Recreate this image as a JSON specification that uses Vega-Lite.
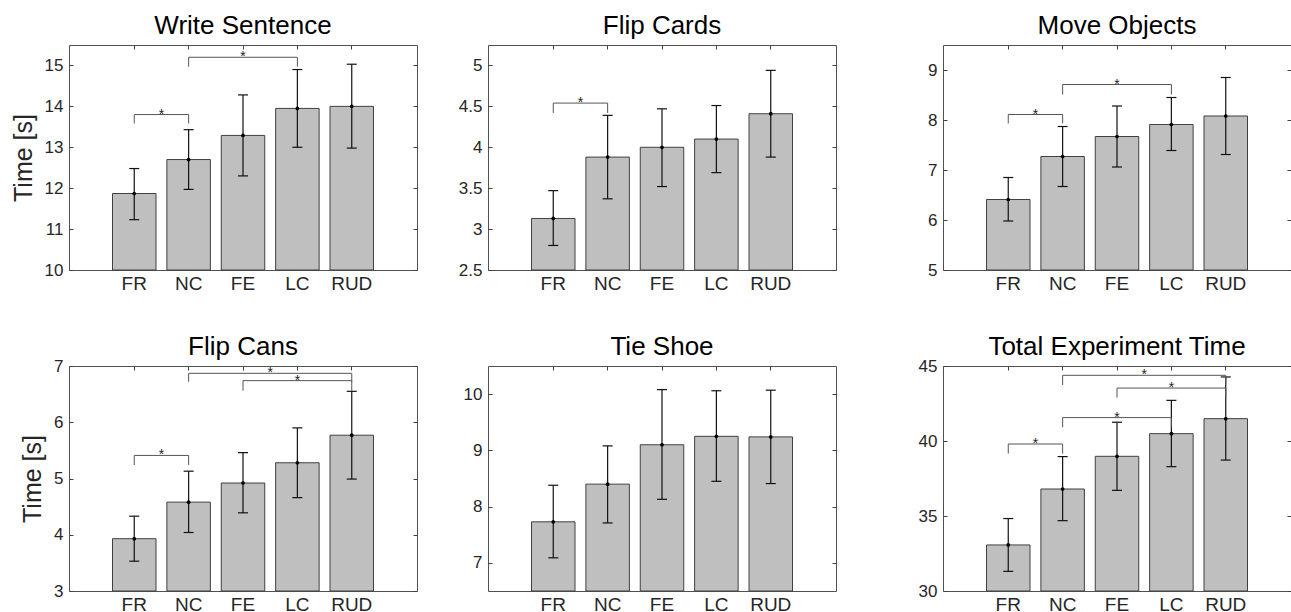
{
  "$schema": "https://vega.github.io/schema/vega-lite/v6.json",
  "padding": {"left": 10, "top": 12, "right": 0, "bottom": 0},
  "background": "white",
  "config": {
    "font": "Liberation Sans",
    "view": {"stroke": "#505050", "strokeWidth": 1},
    "axis": {"grid": false, "domain": false, "ticks": true, "tickSize": -4, "tickColor": "#404040", "labelColor": "#262626", "labelFont": "Liberation Sans", "titleFont": "Liberation Sans", "titleFontWeight": "normal", "titleColor": "#262626", "titleFontSize": 25, "titlePadding": 8},
    "axisY": {"labelFontSize": 17, "labelPadding": 10},
    "axisX": {"labelFontSize": 19, "labelPadding": 8, "labelAngle": 0},
    "title": {"fontSize": 26, "fontWeight": "normal", "font": "Liberation Sans", "color": "#000000", "offset": 6, "frame": "group"}
  },
  "datasets": {
    "ws": [
      {"cond": "FR", "mean": 11.87, "lo": 11.23, "hi": 12.48},
      {"cond": "NC", "mean": 12.70, "lo": 11.97, "hi": 13.43},
      {"cond": "FE", "mean": 13.29, "lo": 12.30, "hi": 14.28},
      {"cond": "LC", "mean": 13.95, "lo": 13.00, "hi": 14.90},
      {"cond": "RUD", "mean": 14.00, "lo": 12.98, "hi": 15.03}
    ],
    "ws_b": [
      {"from": "FR", "to": "NC", "top": 13.80, "leg": 13.58, "star": "FR", "half": true},
      {"from": "NC", "to": "LC", "top": 15.20, "leg": 14.97, "star": "FE", "half": false}
    ],
    "fc": [
      {"cond": "FR", "mean": 3.13, "lo": 2.80, "hi": 3.47},
      {"cond": "NC", "mean": 3.88, "lo": 3.37, "hi": 4.39},
      {"cond": "FE", "mean": 4.00, "lo": 3.52, "hi": 4.47},
      {"cond": "LC", "mean": 4.10, "lo": 3.69, "hi": 4.51},
      {"cond": "RUD", "mean": 4.41, "lo": 3.88, "hi": 4.94}
    ],
    "fc_b": [
      {"from": "FR", "to": "NC", "top": 4.54, "leg": 4.42, "star": "FR", "half": true}
    ],
    "mo": [
      {"cond": "FR", "mean": 6.41, "lo": 5.98, "hi": 6.85},
      {"cond": "NC", "mean": 7.27, "lo": 6.67, "hi": 7.87},
      {"cond": "FE", "mean": 7.67, "lo": 7.06, "hi": 8.28},
      {"cond": "LC", "mean": 7.91, "lo": 7.39, "hi": 8.45},
      {"cond": "RUD", "mean": 8.08, "lo": 7.31, "hi": 8.85}
    ],
    "mo_b": [
      {"from": "FR", "to": "NC", "top": 8.11, "leg": 7.93, "star": "FR", "half": true},
      {"from": "NC", "to": "LC", "top": 8.71, "leg": 8.51, "star": "FE", "half": false}
    ],
    "fcan": [
      {"cond": "FR", "mean": 3.93, "lo": 3.53, "hi": 4.33},
      {"cond": "NC", "mean": 4.58, "lo": 4.04, "hi": 5.13},
      {"cond": "FE", "mean": 4.92, "lo": 4.39, "hi": 5.46},
      {"cond": "LC", "mean": 5.28, "lo": 4.66, "hi": 5.90},
      {"cond": "RUD", "mean": 5.77, "lo": 4.99, "hi": 6.55}
    ],
    "fcan_b": [
      {"from": "FR", "to": "NC", "top": 5.41, "leg": 5.24, "star": "FR", "half": true},
      {"from": "NC", "to": "RUD", "top": 6.87, "leg": 6.72, "star": "FE", "half": true},
      {"from": "FE", "to": "RUD", "top": 6.74, "leg": 6.56, "star": "LC", "half": false}
    ],
    "ts": [
      {"cond": "FR", "mean": 7.73, "lo": 7.09, "hi": 8.38},
      {"cond": "NC", "mean": 8.40, "lo": 7.71, "hi": 9.08},
      {"cond": "FE", "mean": 9.10, "lo": 8.13, "hi": 10.08},
      {"cond": "LC", "mean": 9.25, "lo": 8.45, "hi": 10.06},
      {"cond": "RUD", "mean": 9.24, "lo": 8.41, "hi": 10.07}
    ],
    "tot": [
      {"cond": "FR", "mean": 33.07, "lo": 31.31, "hi": 34.83},
      {"cond": "NC", "mean": 36.80, "lo": 34.69, "hi": 38.96},
      {"cond": "FE", "mean": 38.98, "lo": 36.71, "hi": 41.25},
      {"cond": "LC", "mean": 40.49, "lo": 38.29, "hi": 42.71},
      {"cond": "RUD", "mean": 41.49, "lo": 38.73, "hi": 44.27}
    ],
    "tot_b": [
      {"from": "FR", "to": "NC", "top": 39.80, "leg": 39.16, "star": "FR", "half": true},
      {"from": "NC", "to": "LC", "top": 41.56, "leg": 40.91, "star": "FE", "half": false},
      {"from": "FE", "to": "RUD", "top": 43.53, "leg": 42.89, "star": "LC", "half": false},
      {"from": "NC", "to": "RUD", "top": 44.38, "leg": 43.73, "star": "FE", "half": true}
    ]
  },
  "hconcat": [
    {
      "hconcat": [
        {
          "vconcat": [
            {
              "width": 348, "height": 225,
              "title": "Write Sentence",
              "data": {"name": "ws"},
              "resolve": {"axis": {"x": "independent", "y": "independent"}},
              "layer": [
                {"mark": {"type": "bar", "fill": "#bfbfbf", "stroke": "#404040", "strokeWidth": 1},
                 "encoding": {
                   "x": {"field": "cond", "type": "nominal", "scale": {"type": "band", "domain": ["FR","NC","FE","LC","RUD"], "paddingInner": 0.2, "paddingOuter": 0.8}, "axis": {"title": null, "orient": "bottom", "encode": {"labels": {"update": {"dy": {"signal": "datum.value === 'FE' || datum.value === 'LC' ? 5 : datum.value === 'NC' ? 2 : 0"}}}}}},
                   "y": {"field": "mean", "type": "quantitative", "scale": {"domain": [10, 15.5], "nice": false, "zero": false}, "axis": {"values": [10,11,12,13,14,15], "format": ".3~g", "title": "Time [s]"}},
                   "y2": {"datum": 10}
                 }},
                {"mark": {"type": "rule", "color": "#111111", "strokeWidth": 1.2},
                 "encoding": {
                   "x": {"field": "cond", "type": "nominal", "scale": {"type": "band", "domain": ["FR","NC","FE","LC","RUD"], "paddingInner": 0.2, "paddingOuter": 0.8}, "axis": null},
                   "y": {"field": "lo", "type": "quantitative", "scale": {"domain": [10, 15.5], "nice": false, "zero": false}, "axis": null},
                   "y2": {"field": "hi"}
                 }},
                {"mark": {"type": "tick", "color": "#111111", "size": 10, "thickness": 1.2, "opacity": 1},
                 "encoding": {
                   "x": {"field": "cond", "type": "nominal", "scale": {"type": "band", "domain": ["FR","NC","FE","LC","RUD"], "paddingInner": 0.2, "paddingOuter": 0.8}, "axis": null},
                   "y": {"field": "lo", "type": "quantitative", "scale": {"domain": [10, 15.5], "nice": false, "zero": false}, "axis": null}
                 }},
                {"mark": {"type": "tick", "color": "#111111", "size": 10, "thickness": 1.2, "opacity": 1},
                 "encoding": {
                   "x": {"field": "cond", "type": "nominal", "scale": {"type": "band", "domain": ["FR","NC","FE","LC","RUD"], "paddingInner": 0.2, "paddingOuter": 0.8}, "axis": null},
                   "y": {"field": "hi", "type": "quantitative", "scale": {"domain": [10, 15.5], "nice": false, "zero": false}, "axis": null}
                 }},
                {"mark": {"type": "point", "filled": true, "color": "#000000", "size": 14, "opacity": 1},
                 "encoding": {
                   "x": {"field": "cond", "type": "nominal", "scale": {"type": "band", "domain": ["FR","NC","FE","LC","RUD"], "paddingInner": 0.2, "paddingOuter": 0.8}, "axis": {"orient": "top", "labels": false, "title": null}},
                   "y": {"field": "mean", "type": "quantitative", "scale": {"domain": [10, 15.5], "nice": false, "zero": false}, "axis": {"orient": "right", "labels": false, "title": null, "values": [10,11,12,13,14,15]}}
                 }},
                {"data": {"name": "ws_b"}, "mark": {"type": "rule", "color": "#555555", "strokeWidth": 1},
                 "encoding": {
                   "x": {"field": "from", "type": "nominal", "scale": {"type": "band", "domain": ["FR","NC","FE","LC","RUD"], "paddingInner": 0.2, "paddingOuter": 0.8}, "axis": null},
                   "x2": {"field": "to"},
                   "y": {"field": "top", "type": "quantitative", "scale": {"domain": [10, 15.5], "nice": false, "zero": false}, "axis": null}
                 }},
                {"data": {"name": "ws_b"}, "mark": {"type": "rule", "color": "#555555", "strokeWidth": 1},
                 "encoding": {
                   "x": {"field": "from", "type": "nominal", "scale": {"type": "band", "domain": ["FR","NC","FE","LC","RUD"], "paddingInner": 0.2, "paddingOuter": 0.8}, "axis": null},
                   "y": {"field": "top", "type": "quantitative", "scale": {"domain": [10, 15.5], "nice": false, "zero": false}, "axis": null},
                   "y2": {"field": "leg"}
                 }},
                {"data": {"name": "ws_b"}, "mark": {"type": "rule", "color": "#555555", "strokeWidth": 1},
                 "encoding": {
                   "x": {"field": "to", "type": "nominal", "scale": {"type": "band", "domain": ["FR","NC","FE","LC","RUD"], "paddingInner": 0.2, "paddingOuter": 0.8}, "axis": null},
                   "y": {"field": "top", "type": "quantitative", "scale": {"domain": [10, 15.5], "nice": false, "zero": false}, "axis": null},
                   "y2": {"field": "leg"}
                 }},
                {"data": {"name": "ws_b"}, "transform": [{"filter": "!datum.half"}],
                 "mark": {"type": "text", "text": "*", "fontSize": 14, "dy": 4, "baseline": "alphabetic", "color": "#222222"},
                 "encoding": {
                   "x": {"field": "star", "type": "nominal", "scale": {"type": "band", "domain": ["FR","NC","FE","LC","RUD"], "paddingInner": 0.2, "paddingOuter": 0.8}, "axis": null},
                   "y": {"field": "top", "type": "quantitative", "scale": {"domain": [10, 15.5], "nice": false, "zero": false}, "axis": null}
                 }},
                {"data": {"name": "ws_b"}, "transform": [{"filter": "datum.half"}],
                 "mark": {"type": "text", "text": "*", "fontSize": 14, "dy": 4, "baseline": "alphabetic", "color": "#222222"},
                 "encoding": {
                   "x": {"field": "star", "type": "nominal", "bandPosition": 1.125, "scale": {"type": "band", "domain": ["FR","NC","FE","LC","RUD"], "paddingInner": 0.2, "paddingOuter": 0.8}, "axis": null},
                   "y": {"field": "top", "type": "quantitative", "scale": {"domain": [10, 15.5], "nice": false, "zero": false}, "axis": null}
                 }}
              ]
            },
            {
              "width": 348, "height": 225,
              "title": {"text": "Flip Cans", "offset": -3},
              "data": {"name": "fcan"},
              "resolve": {"axis": {"x": "independent", "y": "independent"}},
              "layer": [
                {"mark": {"type": "bar", "fill": "#bfbfbf", "stroke": "#404040", "strokeWidth": 1},
                 "encoding": {
                   "x": {"field": "cond", "type": "nominal", "scale": {"type": "band", "domain": ["FR","NC","FE","LC","RUD"], "paddingInner": 0.2, "paddingOuter": 0.8}, "axis": {"title": null, "orient": "bottom", "encode": {"labels": {"update": {"dy": {"signal": "datum.value === 'FE' || datum.value === 'LC' ? 5 : datum.value === 'NC' ? 2 : 0"}}}}}},
                   "y": {"field": "mean", "type": "quantitative", "scale": {"domain": [3, 7], "nice": false, "zero": false}, "axis": {"values": [3,4,5,6,7], "format": ".3~g", "title": "Time [s]"}},
                   "y2": {"datum": 3}
                 }},
                {"mark": {"type": "rule", "color": "#111111", "strokeWidth": 1.2},
                 "encoding": {
                   "x": {"field": "cond", "type": "nominal", "scale": {"type": "band", "domain": ["FR","NC","FE","LC","RUD"], "paddingInner": 0.2, "paddingOuter": 0.8}, "axis": null},
                   "y": {"field": "lo", "type": "quantitative", "scale": {"domain": [3, 7], "nice": false, "zero": false}, "axis": null},
                   "y2": {"field": "hi"}
                 }},
                {"mark": {"type": "tick", "color": "#111111", "size": 10, "thickness": 1.2, "opacity": 1},
                 "encoding": {
                   "x": {"field": "cond", "type": "nominal", "scale": {"type": "band", "domain": ["FR","NC","FE","LC","RUD"], "paddingInner": 0.2, "paddingOuter": 0.8}, "axis": null},
                   "y": {"field": "lo", "type": "quantitative", "scale": {"domain": [3, 7], "nice": false, "zero": false}, "axis": null}
                 }},
                {"mark": {"type": "tick", "color": "#111111", "size": 10, "thickness": 1.2, "opacity": 1},
                 "encoding": {
                   "x": {"field": "cond", "type": "nominal", "scale": {"type": "band", "domain": ["FR","NC","FE","LC","RUD"], "paddingInner": 0.2, "paddingOuter": 0.8}, "axis": null},
                   "y": {"field": "hi", "type": "quantitative", "scale": {"domain": [3, 7], "nice": false, "zero": false}, "axis": null}
                 }},
                {"mark": {"type": "point", "filled": true, "color": "#000000", "size": 14, "opacity": 1},
                 "encoding": {
                   "x": {"field": "cond", "type": "nominal", "scale": {"type": "band", "domain": ["FR","NC","FE","LC","RUD"], "paddingInner": 0.2, "paddingOuter": 0.8}, "axis": {"orient": "top", "labels": false, "title": null}},
                   "y": {"field": "mean", "type": "quantitative", "scale": {"domain": [3, 7], "nice": false, "zero": false}, "axis": {"orient": "right", "labels": false, "title": null, "values": [3,4,5,6,7]}}
                 }},
                {"data": {"name": "fcan_b"}, "mark": {"type": "rule", "color": "#555555", "strokeWidth": 1},
                 "encoding": {
                   "x": {"field": "from", "type": "nominal", "scale": {"type": "band", "domain": ["FR","NC","FE","LC","RUD"], "paddingInner": 0.2, "paddingOuter": 0.8}, "axis": null},
                   "x2": {"field": "to"},
                   "y": {"field": "top", "type": "quantitative", "scale": {"domain": [3, 7], "nice": false, "zero": false}, "axis": null}
                 }},
                {"data": {"name": "fcan_b"}, "mark": {"type": "rule", "color": "#555555", "strokeWidth": 1},
                 "encoding": {
                   "x": {"field": "from", "type": "nominal", "scale": {"type": "band", "domain": ["FR","NC","FE","LC","RUD"], "paddingInner": 0.2, "paddingOuter": 0.8}, "axis": null},
                   "y": {"field": "top", "type": "quantitative", "scale": {"domain": [3, 7], "nice": false, "zero": false}, "axis": null},
                   "y2": {"field": "leg"}
                 }},
                {"data": {"name": "fcan_b"}, "mark": {"type": "rule", "color": "#555555", "strokeWidth": 1},
                 "encoding": {
                   "x": {"field": "to", "type": "nominal", "scale": {"type": "band", "domain": ["FR","NC","FE","LC","RUD"], "paddingInner": 0.2, "paddingOuter": 0.8}, "axis": null},
                   "y": {"field": "top", "type": "quantitative", "scale": {"domain": [3, 7], "nice": false, "zero": false}, "axis": null},
                   "y2": {"field": "leg"}
                 }},
                {"data": {"name": "fcan_b"}, "transform": [{"filter": "!datum.half"}],
                 "mark": {"type": "text", "text": "*", "fontSize": 14, "dy": 4, "baseline": "alphabetic", "color": "#222222"},
                 "encoding": {
                   "x": {"field": "star", "type": "nominal", "scale": {"type": "band", "domain": ["FR","NC","FE","LC","RUD"], "paddingInner": 0.2, "paddingOuter": 0.8}, "axis": null},
                   "y": {"field": "top", "type": "quantitative", "scale": {"domain": [3, 7], "nice": false, "zero": false}, "axis": null}
                 }},
                {"data": {"name": "fcan_b"}, "transform": [{"filter": "datum.half"}],
                 "mark": {"type": "text", "text": "*", "fontSize": 14, "dy": 4, "baseline": "alphabetic", "color": "#222222"},
                 "encoding": {
                   "x": {"field": "star", "type": "nominal", "bandPosition": 1.125, "scale": {"type": "band", "domain": ["FR","NC","FE","LC","RUD"], "paddingInner": 0.2, "paddingOuter": 0.8}, "axis": null},
                   "y": {"field": "top", "type": "quantitative", "scale": {"domain": [3, 7], "nice": false, "zero": false}, "axis": null}
                 }}
              ]
            }
          ],
          "spacing": 39
        },
        {
          "vconcat": [
            {
              "width": 348, "height": 225,
              "title": "Flip Cards",
              "data": {"name": "fc"},
              "resolve": {"axis": {"x": "independent", "y": "independent"}},
              "layer": [
                {"mark": {"type": "bar", "fill": "#bfbfbf", "stroke": "#404040", "strokeWidth": 1},
                 "encoding": {
                   "x": {"field": "cond", "type": "nominal", "scale": {"type": "band", "domain": ["FR","NC","FE","LC","RUD"], "paddingInner": 0.2, "paddingOuter": 0.8}, "axis": {"title": null, "orient": "bottom", "encode": {"labels": {"update": {"dy": {"signal": "datum.value === 'FE' || datum.value === 'LC' ? 5 : datum.value === 'NC' ? 2 : 0"}}}}}},
                   "y": {"field": "mean", "type": "quantitative", "scale": {"domain": [2.5, 5.25], "nice": false, "zero": false}, "axis": {"values": [2.5,3,3.5,4,4.5,5], "format": ".3~g", "title": null}},
                   "y2": {"datum": 2.5}
                 }},
                {"mark": {"type": "rule", "color": "#111111", "strokeWidth": 1.2},
                 "encoding": {
                   "x": {"field": "cond", "type": "nominal", "scale": {"type": "band", "domain": ["FR","NC","FE","LC","RUD"], "paddingInner": 0.2, "paddingOuter": 0.8}, "axis": null},
                   "y": {"field": "lo", "type": "quantitative", "scale": {"domain": [2.5, 5.25], "nice": false, "zero": false}, "axis": null},
                   "y2": {"field": "hi"}
                 }},
                {"mark": {"type": "tick", "color": "#111111", "size": 10, "thickness": 1.2, "opacity": 1},
                 "encoding": {
                   "x": {"field": "cond", "type": "nominal", "scale": {"type": "band", "domain": ["FR","NC","FE","LC","RUD"], "paddingInner": 0.2, "paddingOuter": 0.8}, "axis": null},
                   "y": {"field": "lo", "type": "quantitative", "scale": {"domain": [2.5, 5.25], "nice": false, "zero": false}, "axis": null}
                 }},
                {"mark": {"type": "tick", "color": "#111111", "size": 10, "thickness": 1.2, "opacity": 1},
                 "encoding": {
                   "x": {"field": "cond", "type": "nominal", "scale": {"type": "band", "domain": ["FR","NC","FE","LC","RUD"], "paddingInner": 0.2, "paddingOuter": 0.8}, "axis": null},
                   "y": {"field": "hi", "type": "quantitative", "scale": {"domain": [2.5, 5.25], "nice": false, "zero": false}, "axis": null}
                 }},
                {"mark": {"type": "point", "filled": true, "color": "#000000", "size": 14, "opacity": 1},
                 "encoding": {
                   "x": {"field": "cond", "type": "nominal", "scale": {"type": "band", "domain": ["FR","NC","FE","LC","RUD"], "paddingInner": 0.2, "paddingOuter": 0.8}, "axis": {"orient": "top", "labels": false, "title": null}},
                   "y": {"field": "mean", "type": "quantitative", "scale": {"domain": [2.5, 5.25], "nice": false, "zero": false}, "axis": {"orient": "right", "labels": false, "title": null, "values": [2.5,3,3.5,4,4.5,5]}}
                 }},
                {"data": {"name": "fc_b"}, "mark": {"type": "rule", "color": "#555555", "strokeWidth": 1},
                 "encoding": {
                   "x": {"field": "from", "type": "nominal", "scale": {"type": "band", "domain": ["FR","NC","FE","LC","RUD"], "paddingInner": 0.2, "paddingOuter": 0.8}, "axis": null},
                   "x2": {"field": "to"},
                   "y": {"field": "top", "type": "quantitative", "scale": {"domain": [2.5, 5.25], "nice": false, "zero": false}, "axis": null}
                 }},
                {"data": {"name": "fc_b"}, "mark": {"type": "rule", "color": "#555555", "strokeWidth": 1},
                 "encoding": {
                   "x": {"field": "from", "type": "nominal", "scale": {"type": "band", "domain": ["FR","NC","FE","LC","RUD"], "paddingInner": 0.2, "paddingOuter": 0.8}, "axis": null},
                   "y": {"field": "top", "type": "quantitative", "scale": {"domain": [2.5, 5.25], "nice": false, "zero": false}, "axis": null},
                   "y2": {"field": "leg"}
                 }},
                {"data": {"name": "fc_b"}, "mark": {"type": "rule", "color": "#555555", "strokeWidth": 1},
                 "encoding": {
                   "x": {"field": "to", "type": "nominal", "scale": {"type": "band", "domain": ["FR","NC","FE","LC","RUD"], "paddingInner": 0.2, "paddingOuter": 0.8}, "axis": null},
                   "y": {"field": "top", "type": "quantitative", "scale": {"domain": [2.5, 5.25], "nice": false, "zero": false}, "axis": null},
                   "y2": {"field": "leg"}
                 }},
                {"data": {"name": "fc_b"}, "transform": [{"filter": "datum.half"}],
                 "mark": {"type": "text", "text": "*", "fontSize": 14, "dy": 4, "baseline": "alphabetic", "color": "#222222"},
                 "encoding": {
                   "x": {"field": "star", "type": "nominal", "bandPosition": 1.125, "scale": {"type": "band", "domain": ["FR","NC","FE","LC","RUD"], "paddingInner": 0.2, "paddingOuter": 0.8}, "axis": null},
                   "y": {"field": "top", "type": "quantitative", "scale": {"domain": [2.5, 5.25], "nice": false, "zero": false}, "axis": null}
                 }}
              ]
            },
            {
              "width": 348, "height": 225,
              "title": "Tie Shoe",
              "data": {"name": "ts"},
              "resolve": {"axis": {"x": "independent", "y": "independent"}},
              "layer": [
                {"mark": {"type": "bar", "fill": "#bfbfbf", "stroke": "#404040", "strokeWidth": 1},
                 "encoding": {
                   "x": {"field": "cond", "type": "nominal", "scale": {"type": "band", "domain": ["FR","NC","FE","LC","RUD"], "paddingInner": 0.2, "paddingOuter": 0.8}, "axis": {"title": null, "orient": "bottom", "encode": {"labels": {"update": {"dy": {"signal": "datum.value === 'FE' || datum.value === 'LC' ? 5 : datum.value === 'NC' ? 2 : 0"}}}}}},
                   "y": {"field": "mean", "type": "quantitative", "scale": {"domain": [6.5, 10.5], "nice": false, "zero": false}, "axis": {"values": [7,8,9,10], "format": ".3~g", "title": null}},
                   "y2": {"datum": 6.5}
                 }},
                {"mark": {"type": "rule", "color": "#111111", "strokeWidth": 1.2},
                 "encoding": {
                   "x": {"field": "cond", "type": "nominal", "scale": {"type": "band", "domain": ["FR","NC","FE","LC","RUD"], "paddingInner": 0.2, "paddingOuter": 0.8}, "axis": null},
                   "y": {"field": "lo", "type": "quantitative", "scale": {"domain": [6.5, 10.5], "nice": false, "zero": false}, "axis": null},
                   "y2": {"field": "hi"}
                 }},
                {"mark": {"type": "tick", "color": "#111111", "size": 10, "thickness": 1.2, "opacity": 1},
                 "encoding": {
                   "x": {"field": "cond", "type": "nominal", "scale": {"type": "band", "domain": ["FR","NC","FE","LC","RUD"], "paddingInner": 0.2, "paddingOuter": 0.8}, "axis": null},
                   "y": {"field": "lo", "type": "quantitative", "scale": {"domain": [6.5, 10.5], "nice": false, "zero": false}, "axis": null}
                 }},
                {"mark": {"type": "tick", "color": "#111111", "size": 10, "thickness": 1.2, "opacity": 1},
                 "encoding": {
                   "x": {"field": "cond", "type": "nominal", "scale": {"type": "band", "domain": ["FR","NC","FE","LC","RUD"], "paddingInner": 0.2, "paddingOuter": 0.8}, "axis": null},
                   "y": {"field": "hi", "type": "quantitative", "scale": {"domain": [6.5, 10.5], "nice": false, "zero": false}, "axis": null}
                 }},
                {"mark": {"type": "point", "filled": true, "color": "#000000", "size": 14, "opacity": 1},
                 "encoding": {
                   "x": {"field": "cond", "type": "nominal", "scale": {"type": "band", "domain": ["FR","NC","FE","LC","RUD"], "paddingInner": 0.2, "paddingOuter": 0.8}, "axis": {"orient": "top", "labels": false, "title": null}},
                   "y": {"field": "mean", "type": "quantitative", "scale": {"domain": [6.5, 10.5], "nice": false, "zero": false}, "axis": {"orient": "right", "labels": false, "title": null, "values": [7,8,9,10]}}
                 }}
              ]
            }
          ],
          "spacing": 39
        }
      ],
      "spacing": 39
    },
    {
      "vconcat": [
        {
          "width": 348, "height": 225,
          "title": "Move Objects",
          "data": {"name": "mo"},
          "resolve": {"axis": {"x": "independent", "y": "independent"}},
          "layer": [
            {"mark": {"type": "bar", "fill": "#bfbfbf", "stroke": "#404040", "strokeWidth": 1},
             "encoding": {
               "x": {"field": "cond", "type": "nominal", "scale": {"type": "band", "domain": ["FR","NC","FE","LC","RUD"], "paddingInner": 0.2, "paddingOuter": 0.8}, "axis": {"title": null, "orient": "bottom", "encode": {"labels": {"update": {"dy": {"signal": "datum.value === 'FE' || datum.value === 'LC' ? 5 : datum.value === 'NC' ? 2 : 0"}}}}}},
               "y": {"field": "mean", "type": "quantitative", "scale": {"domain": [5, 9.5], "nice": false, "zero": false}, "axis": {"values": [5,6,7,8,9], "format": ".3~g", "title": null}},
               "y2": {"datum": 5}
             }},
            {"mark": {"type": "rule", "color": "#111111", "strokeWidth": 1.2},
             "encoding": {
               "x": {"field": "cond", "type": "nominal", "scale": {"type": "band", "domain": ["FR","NC","FE","LC","RUD"], "paddingInner": 0.2, "paddingOuter": 0.8}, "axis": null},
               "y": {"field": "lo", "type": "quantitative", "scale": {"domain": [5, 9.5], "nice": false, "zero": false}, "axis": null},
               "y2": {"field": "hi"}
             }},
            {"mark": {"type": "tick", "color": "#111111", "size": 10, "thickness": 1.2, "opacity": 1},
             "encoding": {
               "x": {"field": "cond", "type": "nominal", "scale": {"type": "band", "domain": ["FR","NC","FE","LC","RUD"], "paddingInner": 0.2, "paddingOuter": 0.8}, "axis": null},
               "y": {"field": "lo", "type": "quantitative", "scale": {"domain": [5, 9.5], "nice": false, "zero": false}, "axis": null}
             }},
            {"mark": {"type": "tick", "color": "#111111", "size": 10, "thickness": 1.2, "opacity": 1},
             "encoding": {
               "x": {"field": "cond", "type": "nominal", "scale": {"type": "band", "domain": ["FR","NC","FE","LC","RUD"], "paddingInner": 0.2, "paddingOuter": 0.8}, "axis": null},
               "y": {"field": "hi", "type": "quantitative", "scale": {"domain": [5, 9.5], "nice": false, "zero": false}, "axis": null}
             }},
            {"mark": {"type": "point", "filled": true, "color": "#000000", "size": 14, "opacity": 1},
             "encoding": {
               "x": {"field": "cond", "type": "nominal", "scale": {"type": "band", "domain": ["FR","NC","FE","LC","RUD"], "paddingInner": 0.2, "paddingOuter": 0.8}, "axis": {"orient": "top", "labels": false, "title": null}},
               "y": {"field": "mean", "type": "quantitative", "scale": {"domain": [5, 9.5], "nice": false, "zero": false}, "axis": {"orient": "right", "labels": false, "title": null, "values": [5,6,7,8,9]}}
             }},
            {"data": {"name": "mo_b"}, "mark": {"type": "rule", "color": "#555555", "strokeWidth": 1},
             "encoding": {
               "x": {"field": "from", "type": "nominal", "scale": {"type": "band", "domain": ["FR","NC","FE","LC","RUD"], "paddingInner": 0.2, "paddingOuter": 0.8}, "axis": null},
               "x2": {"field": "to"},
               "y": {"field": "top", "type": "quantitative", "scale": {"domain": [5, 9.5], "nice": false, "zero": false}, "axis": null}
             }},
            {"data": {"name": "mo_b"}, "mark": {"type": "rule", "color": "#555555", "strokeWidth": 1},
             "encoding": {
               "x": {"field": "from", "type": "nominal", "scale": {"type": "band", "domain": ["FR","NC","FE","LC","RUD"], "paddingInner": 0.2, "paddingOuter": 0.8}, "axis": null},
               "y": {"field": "top", "type": "quantitative", "scale": {"domain": [5, 9.5], "nice": false, "zero": false}, "axis": null},
               "y2": {"field": "leg"}
             }},
            {"data": {"name": "mo_b"}, "mark": {"type": "rule", "color": "#555555", "strokeWidth": 1},
             "encoding": {
               "x": {"field": "to", "type": "nominal", "scale": {"type": "band", "domain": ["FR","NC","FE","LC","RUD"], "paddingInner": 0.2, "paddingOuter": 0.8}, "axis": null},
               "y": {"field": "top", "type": "quantitative", "scale": {"domain": [5, 9.5], "nice": false, "zero": false}, "axis": null},
               "y2": {"field": "leg"}
             }},
            {"data": {"name": "mo_b"}, "transform": [{"filter": "!datum.half"}],
             "mark": {"type": "text", "text": "*", "fontSize": 14, "dy": 4, "baseline": "alphabetic", "color": "#222222"},
             "encoding": {
               "x": {"field": "star", "type": "nominal", "scale": {"type": "band", "domain": ["FR","NC","FE","LC","RUD"], "paddingInner": 0.2, "paddingOuter": 0.8}, "axis": null},
               "y": {"field": "top", "type": "quantitative", "scale": {"domain": [5, 9.5], "nice": false, "zero": false}, "axis": null}
             }},
            {"data": {"name": "mo_b"}, "transform": [{"filter": "datum.half"}],
             "mark": {"type": "text", "text": "*", "fontSize": 14, "dy": 4, "baseline": "alphabetic", "color": "#222222"},
             "encoding": {
               "x": {"field": "star", "type": "nominal", "bandPosition": 1.125, "scale": {"type": "band", "domain": ["FR","NC","FE","LC","RUD"], "paddingInner": 0.2, "paddingOuter": 0.8}, "axis": null},
               "y": {"field": "top", "type": "quantitative", "scale": {"domain": [5, 9.5], "nice": false, "zero": false}, "axis": null}
             }}
          ]
        },
        {
          "width": 348, "height": 225,
          "title": {"text": "Total Experiment Time", "offset": -3},
          "data": {"name": "tot"},
          "resolve": {"axis": {"x": "independent", "y": "independent"}},
          "layer": [
            {"mark": {"type": "bar", "fill": "#bfbfbf", "stroke": "#404040", "strokeWidth": 1},
             "encoding": {
               "x": {"field": "cond", "type": "nominal", "scale": {"type": "band", "domain": ["FR","NC","FE","LC","RUD"], "paddingInner": 0.2, "paddingOuter": 0.8}, "axis": {"title": null, "orient": "bottom", "encode": {"labels": {"update": {"dy": {"signal": "datum.value === 'FE' || datum.value === 'LC' ? 5 : datum.value === 'NC' ? 2 : 0"}}}}}},
               "y": {"field": "mean", "type": "quantitative", "scale": {"domain": [30, 45], "nice": false, "zero": false}, "axis": {"values": [30,35,40,45], "format": ".3~g", "title": null}},
               "y2": {"datum": 30}
             }},
            {"mark": {"type": "rule", "color": "#111111", "strokeWidth": 1.2},
             "encoding": {
               "x": {"field": "cond", "type": "nominal", "scale": {"type": "band", "domain": ["FR","NC","FE","LC","RUD"], "paddingInner": 0.2, "paddingOuter": 0.8}, "axis": null},
               "y": {"field": "lo", "type": "quantitative", "scale": {"domain": [30, 45], "nice": false, "zero": false}, "axis": null},
               "y2": {"field": "hi"}
             }},
            {"mark": {"type": "tick", "color": "#111111", "size": 10, "thickness": 1.2, "opacity": 1},
             "encoding": {
               "x": {"field": "cond", "type": "nominal", "scale": {"type": "band", "domain": ["FR","NC","FE","LC","RUD"], "paddingInner": 0.2, "paddingOuter": 0.8}, "axis": null},
               "y": {"field": "lo", "type": "quantitative", "scale": {"domain": [30, 45], "nice": false, "zero": false}, "axis": null}
             }},
            {"mark": {"type": "tick", "color": "#111111", "size": 10, "thickness": 1.2, "opacity": 1},
             "encoding": {
               "x": {"field": "cond", "type": "nominal", "scale": {"type": "band", "domain": ["FR","NC","FE","LC","RUD"], "paddingInner": 0.2, "paddingOuter": 0.8}, "axis": null},
               "y": {"field": "hi", "type": "quantitative", "scale": {"domain": [30, 45], "nice": false, "zero": false}, "axis": null}
             }},
            {"mark": {"type": "point", "filled": true, "color": "#000000", "size": 14, "opacity": 1},
             "encoding": {
               "x": {"field": "cond", "type": "nominal", "scale": {"type": "band", "domain": ["FR","NC","FE","LC","RUD"], "paddingInner": 0.2, "paddingOuter": 0.8}, "axis": {"orient": "top", "labels": false, "title": null}},
               "y": {"field": "mean", "type": "quantitative", "scale": {"domain": [30, 45], "nice": false, "zero": false}, "axis": {"orient": "right", "labels": false, "title": null, "values": [30,35,40,45]}}
             }},
            {"data": {"name": "tot_b"}, "mark": {"type": "rule", "color": "#555555", "strokeWidth": 1},
             "encoding": {
               "x": {"field": "from", "type": "nominal", "scale": {"type": "band", "domain": ["FR","NC","FE","LC","RUD"], "paddingInner": 0.2, "paddingOuter": 0.8}, "axis": null},
               "x2": {"field": "to"},
               "y": {"field": "top", "type": "quantitative", "scale": {"domain": [30, 45], "nice": false, "zero": false}, "axis": null}
             }},
            {"data": {"name": "tot_b"}, "mark": {"type": "rule", "color": "#555555", "strokeWidth": 1},
             "encoding": {
               "x": {"field": "from", "type": "nominal", "scale": {"type": "band", "domain": ["FR","NC","FE","LC","RUD"], "paddingInner": 0.2, "paddingOuter": 0.8}, "axis": null},
               "y": {"field": "top", "type": "quantitative", "scale": {"domain": [30, 45], "nice": false, "zero": false}, "axis": null},
               "y2": {"field": "leg"}
             }},
            {"data": {"name": "tot_b"}, "mark": {"type": "rule", "color": "#555555", "strokeWidth": 1},
             "encoding": {
               "x": {"field": "to", "type": "nominal", "scale": {"type": "band", "domain": ["FR","NC","FE","LC","RUD"], "paddingInner": 0.2, "paddingOuter": 0.8}, "axis": null},
               "y": {"field": "top", "type": "quantitative", "scale": {"domain": [30, 45], "nice": false, "zero": false}, "axis": null},
               "y2": {"field": "leg"}
             }},
            {"data": {"name": "tot_b"}, "transform": [{"filter": "!datum.half"}],
             "mark": {"type": "text", "text": "*", "fontSize": 14, "dy": 4, "baseline": "alphabetic", "color": "#222222"},
             "encoding": {
               "x": {"field": "star", "type": "nominal", "scale": {"type": "band", "domain": ["FR","NC","FE","LC","RUD"], "paddingInner": 0.2, "paddingOuter": 0.8}, "axis": null},
               "y": {"field": "top", "type": "quantitative", "scale": {"domain": [30, 45], "nice": false, "zero": false}, "axis": null}
             }},
            {"data": {"name": "tot_b"}, "transform": [{"filter": "datum.half"}],
             "mark": {"type": "text", "text": "*", "fontSize": 14, "dy": 4, "baseline": "alphabetic", "color": "#222222"},
             "encoding": {
               "x": {"field": "star", "type": "nominal", "bandPosition": 1.125, "scale": {"type": "band", "domain": ["FR","NC","FE","LC","RUD"], "paddingInner": 0.2, "paddingOuter": 0.8}, "axis": null},
               "y": {"field": "top", "type": "quantitative", "scale": {"domain": [30, 45], "nice": false, "zero": false}, "axis": null}
             }}
          ]
        }
      ],
      "spacing": 39
    }
  ],
  "spacing": 80
}
